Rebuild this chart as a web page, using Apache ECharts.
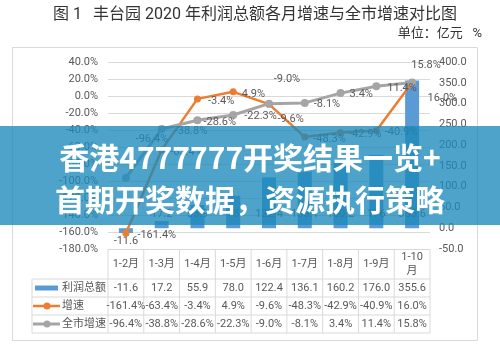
<!DOCTYPE html>
<html>
<head>
<meta charset="utf-8">
<script src="https://cdn.jsdelivr.net/npm/echarts@6/dist/echarts.min.js"></script>
<style>
  html, body { margin: 0; padding: 0; background: #fff; }
  #chart { width: 500px; height: 353px; }
</style>
</head>
<body>
<div id="chart"></div>
<script>
// data
const months = ['1-2月', '1-3月', '1-4月', '1-5月', '1-6月', '1-7月', '1-8月', '1-9月', '1-10月'];
const profit = [-11.6, 17.2, 55.9, 78.0, 122.4, 136.1, 160.2, 176.0, 355.6];
const growth = [-161.4, -63.4, -3.4, 4.9, -9.6, -48.3, -42.9, -40.9, 16.0];
const cityGrowth = [-96.4, -38.8, -28.6, -22.3, -9.0, -8.1, 3.4, 11.4, 15.8];
const seriesNames = ['利润总额', '增速', '全市增速'];

const BLUE = '#5B9BD5', ORANGE = '#ED7D31', GRAY = '#A5A5A5';
const TXT = '#595959', RULE = '#D9D9D9';
const FONT = 'Roboto, "Noto Sans CJK SC", sans-serif';

// label nudges (style only)
const growthLabel = [
  ['right', [3, 2]], ['right', [0, 2]], ['right', [2, 2]], ['right', [0, 2]], ['right', [0, 15]],
  ['right', [0, 2]], ['right', [0, 2]], ['right', [0, 1]], ['right', [7, 16]]
];
const cityLabel = [
  ['top', [26, -24]], ['right', [4, 2]], ['right', [-3, 2]], ['right', [2, 1]], ['top', [18, -10]],
  ['right', [0, 1]], ['right', [0, 1]], ['right', [2, 2]], ['top', [14, -3]]
];

const pct = v => v.toFixed(1) + '%';

const chart = echarts.init(document.getElementById('chart'));

const option = {
  animation: false,
  textStyle: { fontFamily: FONT },
  grid: { left: 108, right: 70, top: 62, bottom: 104 },
  xAxis: {
    type: 'category',
    data: months,
    axisLine: { show: false },
    axisTick: { show: false },
    axisLabel: { show: false }
  },
  yAxis: [
    {
      type: 'value', min: -180, max: 40, interval: 20,
      axisLabel: { formatter: pct, color: TXT, fontSize: 11, margin: 10 },
      axisLine: { show: false }, axisTick: { show: false },
      splitLine: { lineStyle: { color: RULE } }
    },
    {
      type: 'value', min: -50, max: 400, interval: 50,
      axisLabel: { formatter: v => v.toFixed(1), color: TXT, fontSize: 11, margin: 9 },
      axisLine: { show: false }, axisTick: { show: false },
      splitLine: { show: false }
    }
  ],
  series: [
    {
      name: seriesNames[0], type: 'bar', yAxisIndex: 1, barWidth: 14,
      itemStyle: { color: BLUE },
      data: profit.map(v => v < 0
        ? { value: v, label: { position: 'bottom', distance: 3 } }
        : v),
      label: { show: true, position: 'insideBottom', distance: 8, color: TXT, fontSize: 11 }
    },
    {
      name: seriesNames[1], type: 'line', yAxisIndex: 0,
      symbol: 'circle', symbolSize: 7,
      lineStyle: { color: ORANGE, width: 2.5 },
      itemStyle: { color: ORANGE },
      data: growth.map((v, i) => ({
        value: v,
        label: { position: growthLabel[i][0], offset: growthLabel[i][1] }
      })),
      label: { show: true, formatter: p => pct(p.value), color: TXT, fontSize: 11 }
    },
    {
      name: seriesNames[2], type: 'line', yAxisIndex: 0,
      symbol: 'circle', symbolSize: 8,
      lineStyle: { color: GRAY, width: 3 },
      itemStyle: { color: GRAY },
      data: cityGrowth.map((v, i) => ({
        value: v,
        label: { position: cityLabel[i][0], offset: cityLabel[i][1] }
      })),
      label: { show: true, formatter: p => pct(p.value), color: TXT, fontSize: 11 }
    }
  ]
};

chart.setOption(option);

// data table under the plot, aligned to the category axis
const xs = months.map((m, i) => chart.convertToPixel({ xAxisIndex: 0 }, i));
const colW = xs[1] - xs[0];
const tLeft = xs[0] - colW / 2;
const tRight = xs[xs.length - 1] + colW / 2;
const yTop = chart.convertToPixel({ yAxisIndex: 0 }, -180);
const headH = 30, rowH = 18;
const legendLeft = 32;
const rows = [profit.map(v => v.toFixed(1)), growth.map(pct), cityGrowth.map(pct)];
const yRow0 = yTop + headH;
const yEnd = yRow0 + rowH * rows.length;

const g = [];
const hline = (x1, x2, y) => g.push({ type: 'line', shape: { x1, y1: y, x2, y2: y }, style: { stroke: RULE, lineWidth: 1 }, silent: true });
const vline = (x, y1, y2) => g.push({ type: 'line', shape: { x1: x, y1, x2: x, y2 }, style: { stroke: RULE, lineWidth: 1 }, silent: true });
const text = (x, y, s, align, size, color) => g.push({
  type: 'text', x, y, silent: true,
  style: { text: s, fill: color || TXT, font: (size || 11) + 'px ' + FONT, align: align || 'center', verticalAlign: 'middle' }
});

for (let i = 0; i <= months.length; i++) vline(tLeft + i * colW, yTop, yEnd);
vline(legendLeft, yRow0, yEnd);
for (let r = 0; r <= rows.length; r++) hline(legendLeft, tRight, yRow0 + r * rowH);

months.forEach((m, i) => {
  if (m.length > 4) {
    text(xs[i], yTop + headH / 2 - 7, m.slice(0, -1));
    text(xs[i], yTop + headH / 2 + 7, m.slice(-1));
  } else {
    text(xs[i], yTop + headH / 2, m);
  }
});
rows.forEach((row, r) => {
  const cy = yRow0 + r * rowH + rowH / 2;
  row.forEach((s, i) => text(xs[i], cy, s));
  text(legendLeft + 30, cy, seriesNames[r], 'left', 11);
});
// legend keys
const k0 = yRow0 + rowH / 2;
g.push({ type: 'rect', shape: { x: 35, y: k0 - 2.5, width: 23, height: 5 }, style: { fill: BLUE }, silent: true });
[[ORANGE, 2.5, 1], [GRAY, 3, 2]].forEach(([c, w, r]) => {
  const cy = yRow0 + r * rowH + rowH / 2;
  g.push({ type: 'line', shape: { x1: 33, y1: cy, x2: 60, y2: cy }, style: { stroke: c, lineWidth: w }, silent: true });
  g.push({ type: 'circle', shape: { cx: 47, cy, r: 3.5 }, style: { fill: c }, silent: true });
});

// frame, title, unit
g.push({ type: 'rect', shape: { x: 12.5, y: 47.5, width: 465, height: 293 }, style: { fill: 'none', stroke: RULE, lineWidth: 1 }, silent: true });
text(53, 15, '图 1', 'left', 16, '#333');
text(93, 15, '丰台园 2020 年利润总额各月增速与全市增速对比图', 'left', 16, '#333');
text(482, 34, '单位：亿元   %', 'right', 13, '#333');

// overlay banner from the picture
g.push({ type: 'rect', z: 100, shape: { x: 0, y: 126, width: 500, height: 99 }, style: { fill: 'rgba(27,137,186,0.78)' }, silent: true });
['香港4777777开奖结果一览+', '首期开奖数据，资源执行策略'].forEach((s, i) => g.push({
  type: 'text', z: 101, x: 250, y: 158 + i * 42, silent: true,
  style: {
    text: s, fill: '#fff', font: 'bold 30px "Noto Sans CJK SC", sans-serif',
    align: 'center', verticalAlign: 'middle',
    shadowColor: 'rgba(0,0,0,0.35)', shadowBlur: 3, shadowOffsetY: 1
  }
}));

chart.setOption({ graphic: { elements: g } });
</script>
</body>
</html>
